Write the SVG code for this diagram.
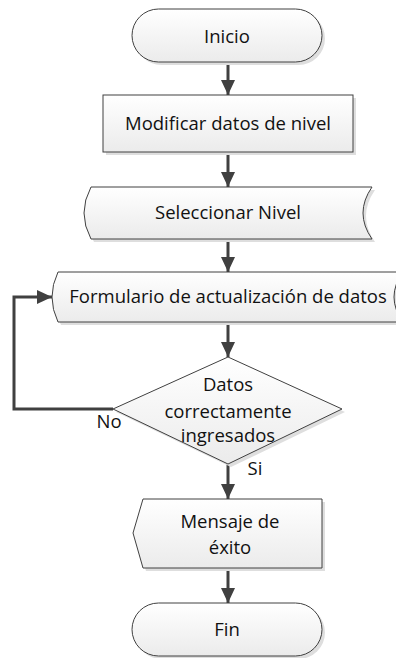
<svg xmlns="http://www.w3.org/2000/svg" xmlns:xlink="http://www.w3.org/1999/xlink" width="396" height="658" viewBox="0 0 396 658">
  <style>
    .shape { fill: url(#fillGrad); stroke: #404040; stroke-width: 1; }
    .shadow { fill: #dedede; stroke: none; }
    .label { font-family: "Open Sans", "Liberation Sans", Arial, sans-serif; font-size: 18.5px; fill: #111; text-anchor: middle; }
    .conn { fill: none; stroke: #404040; stroke-width: 3; }
  </style>
  <defs>
    <linearGradient id="fillGrad" x1="0" y1="0" x2="0" y2="1">
      <stop offset="0" stop-color="#ffffff"/>
      <stop offset="1" stop-color="#ebebeb"/>
    </linearGradient>
    <marker id="arrow" markerUnits="userSpaceOnUse" markerWidth="16" markerHeight="16" viewBox="0 0 16 16" refX="15" refY="8" orient="auto">
      <path d="M0,1 L15,8 L0,15 Z" fill="#404040"/>
    </marker>
  </defs>

  <g id="connectors">
    <line class="conn" x1="228" y1="62" x2="228" y2="95" marker-end="url(#arrow)"/>
    <line class="conn" x1="228" y1="153" x2="228" y2="187" marker-end="url(#arrow)"/>
    <line class="conn" x1="228" y1="239" x2="228" y2="272" marker-end="url(#arrow)"/>
    <line class="conn" x1="228" y1="322" x2="228" y2="357" marker-end="url(#arrow)"/>
    <line class="conn" x1="228" y1="464" x2="228" y2="499" marker-end="url(#arrow)"/>
    <line class="conn" x1="228" y1="568" x2="228" y2="603" marker-end="url(#arrow)"/>
    <polyline class="conn" points="113,409 14,409 14,297 52,297" marker-end="url(#arrow)"/>
    <text class="label" x="109" y="428">No</text>
    <text class="label" x="255" y="475">Si</text>
  </g>

  <g id="inicio">
    <rect class="shadow" x="135" y="12" width="190" height="53" rx="26.5"/>
    <rect class="shape" x="132" y="9" width="190" height="53" rx="26.5"/>
    <text class="label" x="227" y="43">Inicio</text>
  </g>

  <g id="modificar">
    <rect class="shadow" x="106" y="98" width="250" height="57"/>
    <rect class="shape" x="103" y="95" width="250" height="57"/>
    <text class="label" x="228" y="130">Modificar datos de nivel</text>
  </g>

  <g id="seleccionar">
    <path class="shadow" transform="translate(3,3)" d="M91,187 L372,187 Q354,213 372,239 L91,239 Q77,213 91,187 Z"/>
    <path class="shape" d="M91,187 L372,187 Q354,213 372,239 L91,239 Q77,213 91,187 Z"/>
    <text class="label" x="228" y="219">Seleccionar Nivel</text>
  </g>

  <g id="formulario">
    <path class="shadow" transform="translate(3,3)" d="M58,272 L403,272 Q385,297 403,322 L58,322 Q46,297 58,272 Z"/>
    <path class="shape" d="M58,272 L403,272 Q385,297 403,322 L58,322 Q46,297 58,272 Z"/>
    <text class="label" x="228" y="303">Formulario de actualización de datos</text>
  </g>

  <g id="decision">
    <path class="shadow" transform="translate(3,3)" d="M228,357 L342,409 L228,464 L113,409 Z"/>
    <path class="shape" d="M228,357 L342,409 L228,464 L113,409 Z"/>
    <text class="label" x="228" y="391">Datos</text>
    <text class="label" x="228" y="418">correctamente</text>
    <text class="label" x="228" y="442">ingresados</text>
  </g>

  <g id="mensaje">
    <path class="shadow" transform="translate(3,3)" d="M143,499 L322,499 L322,568 L143,568 L133,533 Z"/>
    <path class="shape" d="M143,499 L322,499 L322,568 L143,568 L133,533 Z"/>
    <text class="label" x="230" y="528">Mensaje de</text>
    <text class="label" x="230" y="554">éxito</text>
  </g>

  <g id="fin">
    <rect class="shadow" x="135" y="606" width="190" height="53" rx="26.5"/>
    <rect class="shape" x="132" y="603" width="190" height="53" rx="26.5"/>
    <text class="label" x="227" y="636">Fin</text>
  </g>
</svg>
